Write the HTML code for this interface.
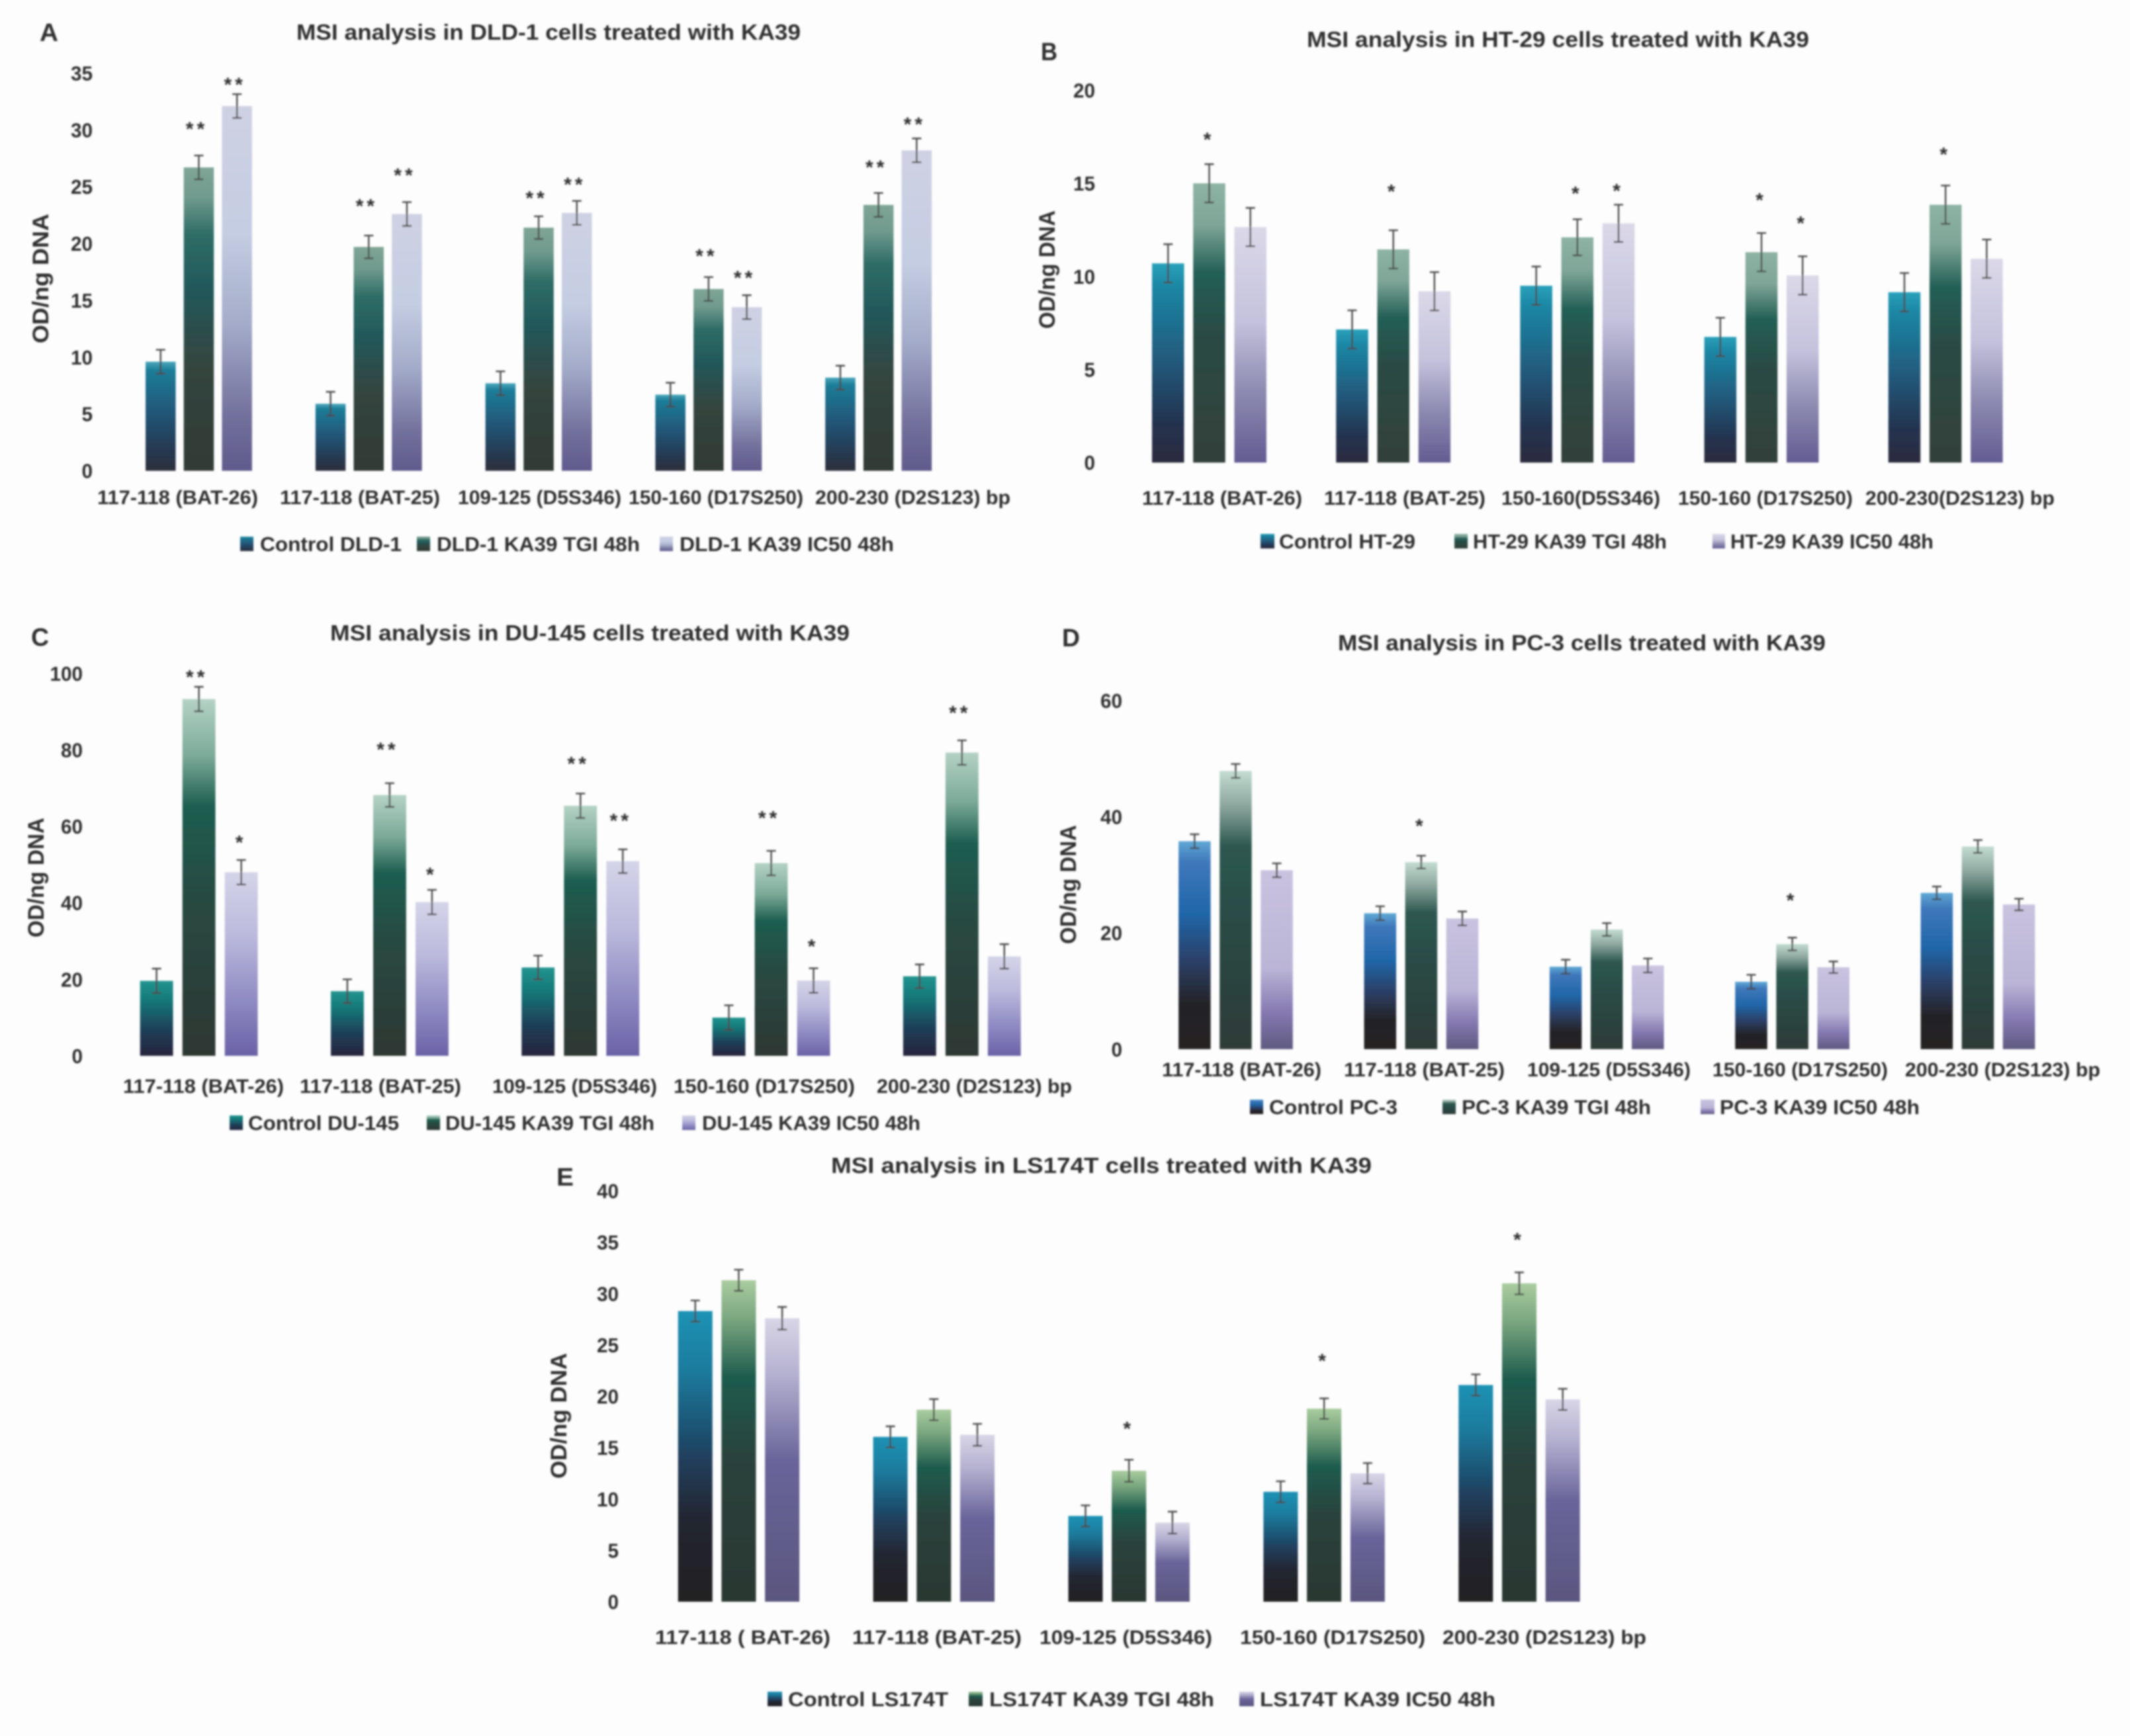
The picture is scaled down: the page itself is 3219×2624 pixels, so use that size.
<!DOCTYPE html>
<html lang="en">
<head>
<meta charset="utf-8">
<title>MSI analysis in cells treated with KA39</title>
<style>
html,body{margin:0;padding:0;background:#fdfdfd;}
svg{display:block;}
text{font-family:"Liberation Sans",sans-serif;fill:#2f2f2f;}
.t{font-size:33px;font-weight:bold;}
.l{font-size:31px;font-weight:bold;}
.p{font-size:38px;font-weight:bold;}
.a{font-size:34px;font-weight:bold;}
</style>
</head>
<body>
<svg id="figure" xmlns="http://www.w3.org/2000/svg" width="3219" height="2624" viewBox="0 0 3219 2624">
<defs>
<filter id="soft" filterUnits="userSpaceOnUse" x="0" y="0" width="3219" height="2624"><feGaussianBlur stdDeviation="1.4"/></filter>
<linearGradient id="g-a-0" x1="0" y1="0" x2="0" y2="1"><stop offset="0" stop-color="#4aa6bb"/><stop offset=".08" stop-color="#1b7d98"/><stop offset=".45" stop-color="#23587a"/><stop offset=".8" stop-color="#253a52"/><stop offset="1" stop-color="#2e2f3c"/></linearGradient>
<linearGradient id="g-a-1" x1="0" y1="0" x2="0" y2="1"><stop offset="0" stop-color="#7fa596"/><stop offset=".1" stop-color="#6f9a8d"/><stop offset=".22" stop-color="#2f6d66"/><stop offset=".4" stop-color="#22585a"/><stop offset=".65" stop-color="#34453f"/><stop offset="1" stop-color="#303a35"/></linearGradient>
<linearGradient id="g-a-2" x1="0" y1="0" x2="0" y2="1"><stop offset="0" stop-color="#cfd1e3"/><stop offset=".35" stop-color="#c4cde2"/><stop offset=".6" stop-color="#a3abc9"/><stop offset=".85" stop-color="#72709c"/><stop offset="1" stop-color="#5f5b8c"/></linearGradient>
<linearGradient id="g-b-0" x1="0" y1="0" x2="0" y2="1"><stop offset="0" stop-color="#2aa0ba"/><stop offset=".12" stop-color="#1a86a4"/><stop offset=".5" stop-color="#23587a"/><stop offset=".8" stop-color="#24334f"/><stop offset="1" stop-color="#2c2a3e"/></linearGradient>
<linearGradient id="g-b-1" x1="0" y1="0" x2="0" y2="1"><stop offset="0" stop-color="#8db3a4"/><stop offset=".15" stop-color="#7ea597"/><stop offset=".32" stop-color="#235f55"/><stop offset=".55" stop-color="#2a4a44"/><stop offset="1" stop-color="#33403a"/></linearGradient>
<linearGradient id="g-b-2" x1="0" y1="0" x2="0" y2="1"><stop offset="0" stop-color="#dbd8e8"/><stop offset=".4" stop-color="#c4c2dc"/><stop offset=".7" stop-color="#8c8ab0"/><stop offset="1" stop-color="#635c92"/></linearGradient>
<linearGradient id="g-c-0" x1="0" y1="0" x2="0" y2="1"><stop offset="0" stop-color="#22948f"/><stop offset=".25" stop-color="#157a7a"/><stop offset=".65" stop-color="#1e3f58"/><stop offset="1" stop-color="#27243c"/></linearGradient>
<linearGradient id="g-c-1" x1="0" y1="0" x2="0" y2="1"><stop offset="0" stop-color="#b4d2c4"/><stop offset=".16" stop-color="#7caa98"/><stop offset=".3" stop-color="#1d5e50"/><stop offset=".55" stop-color="#284a42"/><stop offset="1" stop-color="#2e3733"/></linearGradient>
<linearGradient id="g-c-2" x1="0" y1="0" x2="0" y2="1"><stop offset="0" stop-color="#d4d4e8"/><stop offset=".35" stop-color="#bab9dc"/><stop offset=".7" stop-color="#8e8ac2"/><stop offset="1" stop-color="#6a62a6"/></linearGradient>
<linearGradient id="g-d-0" x1="0" y1="0" x2="0" y2="1"><stop offset="0" stop-color="#5fa8d4"/><stop offset=".1" stop-color="#3f78bb"/><stop offset=".35" stop-color="#1f66a8"/><stop offset=".58" stop-color="#2c3f66"/><stop offset=".78" stop-color="#242428"/><stop offset="1" stop-color="#252323"/></linearGradient>
<linearGradient id="g-d-1" x1="0" y1="0" x2="0" y2="1"><stop offset="0" stop-color="#c3dcd2"/><stop offset=".12" stop-color="#8fa9a0"/><stop offset=".27" stop-color="#2d5850"/><stop offset=".55" stop-color="#2a4a45"/><stop offset="1" stop-color="#2e3b38"/></linearGradient>
<linearGradient id="g-d-2" x1="0" y1="0" x2="0" y2="1"><stop offset="0" stop-color="#c9c3e0"/><stop offset=".55" stop-color="#bab4d6"/><stop offset=".8" stop-color="#8478b0"/><stop offset="1" stop-color="#5f5a80"/></linearGradient>
<linearGradient id="g-e-0" x1="0" y1="0" x2="0" y2="1"><stop offset="0" stop-color="#1a92b4"/><stop offset=".2" stop-color="#1a7c9e"/><stop offset=".5" stop-color="#20405f"/><stop offset=".72" stop-color="#222530"/><stop offset="1" stop-color="#232323"/></linearGradient>
<linearGradient id="g-e-1" x1="0" y1="0" x2="0" y2="1"><stop offset="0" stop-color="#a9cc9f"/><stop offset=".12" stop-color="#7aa67f"/><stop offset=".3" stop-color="#1e5c4e"/><stop offset=".55" stop-color="#2a423c"/><stop offset="1" stop-color="#2c3732"/></linearGradient>
<linearGradient id="g-e-2" x1="0" y1="0" x2="0" y2="1"><stop offset="0" stop-color="#d8d5e6"/><stop offset=".2" stop-color="#b4b0d0"/><stop offset=".5" stop-color="#69659a"/><stop offset="1" stop-color="#5a567f"/></linearGradient>
</defs>
<rect x="0" y="0" width="3219" height="2624" fill="#fdfdfd"/>
<g id="root" filter="url(#soft)">

<g id="panel-a">
<text class="p" x="60" y="62" textLength="28" lengthAdjust="spacingAndGlyphs">A</text>
<text class="t" x="448" y="60" textLength="762" lengthAdjust="spacingAndGlyphs">MSI analysis in DLD-1 cells treated with KA39</text>
<text class="a" transform="translate(73,519) rotate(-90)" textLength="196" lengthAdjust="spacingAndGlyphs">OD/ng DNA</text>
<g>
<rect x="363" y="811" width="20" height="22" fill="url(#g-a-0)"/>
<text class="l" x="393" y="833" textLength="214" lengthAdjust="spacingAndGlyphs">Control DLD-1</text>
<rect x="630" y="811" width="20" height="22" fill="url(#g-a-1)"/>
<text class="l" x="660" y="833" textLength="307" lengthAdjust="spacingAndGlyphs">DLD-1 KA39 TGI 48h</text>
<rect x="997" y="811" width="20" height="22" fill="url(#g-a-2)"/>
<text class="l" x="1027" y="833" textLength="324" lengthAdjust="spacingAndGlyphs">DLD-1 KA39 IC50 48h</text>
</g>
</g>

<g id="panel-b">
<text class="p" x="1573" y="91" textLength="25" lengthAdjust="spacingAndGlyphs">B</text>
<text class="t" x="1975" y="71" textLength="759" lengthAdjust="spacingAndGlyphs">MSI analysis in HT-29 cells treated with KA39</text>
<text class="a" transform="translate(1594,497) rotate(-90)" textLength="179" lengthAdjust="spacingAndGlyphs">OD/ng DNA</text>
<g>
<rect x="1905" y="807" width="21" height="22" fill="url(#g-b-0)"/>
<text class="l" x="1933" y="829" textLength="206" lengthAdjust="spacingAndGlyphs">Control HT-29</text>
<rect x="2198" y="807" width="20" height="22" fill="url(#g-b-1)"/>
<text class="l" x="2226" y="829" textLength="293" lengthAdjust="spacingAndGlyphs">HT-29 KA39 TGI 48h</text>
<rect x="2588" y="807" width="19" height="22" fill="url(#g-b-2)"/>
<text class="l" x="2615" y="829" textLength="307" lengthAdjust="spacingAndGlyphs">HT-29 KA39 IC50 48h</text>
</g>
</g>

<g id="panel-c">
<text class="p" x="47" y="976" textLength="27" lengthAdjust="spacingAndGlyphs">C</text>
<text class="t" x="499" y="968" textLength="785" lengthAdjust="spacingAndGlyphs">MSI analysis in DU-145 cells treated with KA39</text>
<text class="a" transform="translate(66,1417) rotate(-90)" textLength="181" lengthAdjust="spacingAndGlyphs">OD/ng DNA</text>
<g>
<rect x="347" y="1686" width="20" height="22" fill="url(#g-c-0)"/>
<text class="l" x="375" y="1708" textLength="228" lengthAdjust="spacingAndGlyphs">Control DU-145</text>
<rect x="645" y="1686" width="20" height="22" fill="url(#g-c-1)"/>
<text class="l" x="673" y="1708" textLength="316" lengthAdjust="spacingAndGlyphs">DU-145 KA39 TGI 48h</text>
<rect x="1031" y="1686" width="20" height="22" fill="url(#g-c-2)"/>
<text class="l" x="1061" y="1708" textLength="330" lengthAdjust="spacingAndGlyphs">DU-145 KA39 IC50 48h</text>
</g>
</g>

<g id="panel-d">
<text class="p" x="1605" y="977" textLength="27" lengthAdjust="spacingAndGlyphs">D</text>
<text class="t" x="2022" y="983" textLength="737" lengthAdjust="spacingAndGlyphs">MSI analysis in PC-3 cells treated with KA39</text>
<text class="a" transform="translate(1626,1427) rotate(-90)" textLength="180" lengthAdjust="spacingAndGlyphs">OD/ng DNA</text>
<g>
<rect x="1889" y="1662" width="20" height="22" fill="url(#g-d-0)"/>
<text class="l" x="1918" y="1684" textLength="194" lengthAdjust="spacingAndGlyphs">Control PC-3</text>
<rect x="2180" y="1662" width="20" height="22" fill="url(#g-d-1)"/>
<text class="l" x="2209" y="1684" textLength="286" lengthAdjust="spacingAndGlyphs">PC-3 KA39 TGI 48h</text>
<rect x="2570" y="1662" width="21" height="22" fill="url(#g-d-2)"/>
<text class="l" x="2599" y="1684" textLength="302" lengthAdjust="spacingAndGlyphs">PC-3 KA39 IC50 48h</text>
</g>
</g>

<g id="panel-e">
<text class="p" x="841" y="1792" textLength="26" lengthAdjust="spacingAndGlyphs">E</text>
<text class="t" x="1256" y="1773" textLength="817" lengthAdjust="spacingAndGlyphs">MSI analysis in LS174T cells treated with KA39</text>
<text class="a" transform="translate(856,2235) rotate(-90)" textLength="190" lengthAdjust="spacingAndGlyphs">OD/ng DNA</text>
<g>
<rect x="1160" y="2557" width="22" height="22" fill="url(#g-e-0)"/>
<text class="l" x="1191" y="2579" textLength="242" lengthAdjust="spacingAndGlyphs">Control LS174T</text>
<rect x="1464" y="2557" width="21" height="22" fill="url(#g-e-1)"/>
<text class="l" x="1495" y="2579" textLength="340" lengthAdjust="spacingAndGlyphs">LS174T KA39 TGI 48h</text>
<rect x="1873" y="2557" width="22" height="22" fill="url(#g-e-2)"/>
<text class="l" x="1904" y="2579" textLength="356" lengthAdjust="spacingAndGlyphs">LS174T KA39 IC50 48h</text>
</g>
</g>
</g>
</svg>
<script>
// ---------- Panel A data ----------
var aCategories = ['117-118 (BAT-26)', '117-118 (BAT-25)', '109-125 (D5S346)', '150-160 (D17S250)', '200-230 (D2S123) bp'];
var aTicks = [0, 5, 10, 15, 20, 25, 30, 35];
var aControl = [9.6, 5.9, 7.7, 6.7, 8.2];
var aTgi = [26.7, 19.7, 21.4, 16.0, 23.4];
var aIc50 = [32.1, 22.6, 22.7, 14.4, 28.2];
var aControlErr = [1.05, 1.05, 1.05, 1.05, 1.05];
var aTgiErr = [1.05, 1.0, 1.0, 1.05, 1.05];
var aIc50Err = [1.05, 1.05, 1.05, 1.05, 1.05];
var aTgiSig = ['**', '**', '**', '**', '**'];
var aTgiSigLevel = [30.5, 23.7, 24.4, 19.3, 27.1];
var aIc50Sig = ['**', '**', '**', '**', '**'];
var aIc50SigLevel = [34.4, 26.4, 25.6, 17.4, 30.9];

// ---------- Panel B data ----------
var bCategories = ['117-118 (BAT-26)', '117-118 (BAT-25)', '150-160(D5S346)', '150-160 (D17S250)', '200-230(D2S123) bp'];
var bTicks = [0, 5, 10, 15, 20];
var bControl = [10.7, 7.15, 9.5, 6.75, 9.15];
var bTgi = [15.0, 11.45, 12.1, 11.3, 13.85];
var bIc50 = [12.65, 9.2, 12.85, 10.05, 10.95];
var bControlErr = [1.03, 1.03, 1.03, 1.03, 1.03];
var bTgiErr = [1.03, 1.03, 0.97, 1.03, 1.03];
var bIc50Err = [1.03, 1.03, 1.0, 1.03, 1.03];
var bTgiSig = ['*', '*', '*', '*', '*'];
var bTgiSigLevel = [17.6, 14.8, 14.7, 14.35, 16.8];
var bIc50Sig = ['', '', '*', '*', ''];
var bIc50SigLevel = [0, 0, 14.85, 13.1, 0];

// ---------- Panel C data ----------
var cCategories = ['117-118 (BAT-26)', '117-118 (BAT-25)', '109-125 (D5S346)', '150-160  (D17S250)', '200-230 (D2S123) bp'];
var cTicks = [0, 20, 40, 60, 80, 100];
var cControl = [19.6, 16.9, 23.1, 10.0, 20.8];
var cTgi = [93.3, 68.2, 65.4, 50.4, 79.3];
var cIc50 = [48.0, 40.2, 50.9, 19.7, 26.0];
var cControlErr = [3.2, 3.1, 3.1, 3.2, 3.1];
var cTgiErr = [3.2, 3.1, 3.2, 3.2, 3.2];
var cIc50Err = [3.2, 3.2, 3.1, 3.2, 3.2];
var cTgiSig = ['**', '**', '**', '**', '**'];
var cTgiSigLevel = [100.2, 81.3, 77.6, 63.4, 90.9];
var cIc50Sig = ['*', '*', '**', '*', ''];
var cIc50SigLevel = [57.0, 48.6, 62.7, 29.8, 0];

// ---------- Panel D data ----------
var dCategories = ['117-118 (BAT-26)', '117-118 (BAT-25)', '109-125 (D5S346)', '150-160 (D17S250)', '200-230 (D2S123) bp'];
var dTicks = [0, 20, 40, 60];
var dControl = [35.8, 23.4, 14.2, 11.6, 26.9];
var dTgi = [47.9, 32.2, 20.6, 18.1, 34.9];
var dIc50 = [30.8, 22.5, 14.4, 14.1, 24.9];
var dControlErr = [1.2, 1.2, 1.2, 1.2, 1.1];
var dTgiErr = [1.2, 1.1, 1.1, 1.1, 1.1];
var dIc50Err = [1.2, 1.2, 1.2, 1.0, 1.0];
var dTgiSig = ['', '*', '', '*', ''];
var dTgiSigLevel = [0, 39.2, 0, 26.4, 0];
var dIc50Sig = ['', '', '', '', ''];
var dIc50SigLevel = [0, 0, 0, 0, 0];

// ---------- Panel E data ----------
var eCategories = ['117-118 ( BAT-26)', '117-118 (BAT-25)', '109-125 (D5S346)', '150-160 (D17S250)', '200-230 (D2S123) bp'];
var eTicks = [0, 5, 10, 15, 20, 25, 30, 35, 40];
var eControl = [28.3, 16.05, 8.35, 10.7, 21.1];
var eTgi = [31.3, 18.7, 12.75, 18.8, 31.0];
var eIc50 = [27.6, 16.25, 7.7, 12.5, 19.7];
var eControlErr = [1.03, 1.03, 1.03, 1.03, 1.03];
var eTgiErr = [1.03, 1.03, 1.07, 1.0, 1.07];
var eIc50Err = [1.1, 1.07, 1.07, 1.0, 1.03];
var eTgiSig = ['', '', '*', '*', '*'];
var eTgiSigLevel = [0, 0, 17.3, 23.9, 35.7];
var eIc50Sig = ['', '', '', '', ''];
var eIc50SigLevel = [0, 0, 0, 0, 0];

var SVG_NS = 'http://www.w3.org/2000/svg';
var seriesNames = ['control', 'tgi', 'ic50'];

function make(parent, tag, attrs, name, text) {
  var el = document.createElementNS(SVG_NS, tag);
  for (var k in attrs) { el.setAttribute(k, attrs[k]); }
  
  
  if (text !== undefined) { el.textContent = text; }
  parent.appendChild(el);
  return el;
}

function drawPanel(id, frame, categories, ticks, series, errors, sigs, sigLevels) {
  var parent = document.getElementById('panel-' + id);
  var scaleY = function (v) { return frame.y0 - v / frame.max * (frame.y0 - frame.yTop); };
  var scaleX = function (g, s) { return frame.x0 + g * frame.groupPitch + s * frame.barPitch; };

  // y-axis tick labels
  ticks.forEach(function (t) {
    var label = String(t);
    make(parent, 'text', {
      x: frame.tickRight - label.length * 16.5, y: scaleY(t) + 11,
      textLength: label.length * 16.5, lengthAdjust: 'spacingAndGlyphs',
      'font-size': 31, 'font-weight': 'bold'
    }, 'y-tick-' + id + '-' + t, label);
  });

  // x-axis category labels
  categories.forEach(function (c, g) {
    var span = frame.labelSpans[g];
    make(parent, 'text', {
      x: span[0], y: frame.labelY + 11, textLength: span[1] - span[0],
      lengthAdjust: 'spacingAndGlyphs', 'font-size': 30, 'font-weight': 'bold'
    }, 'x-label-' + id + '-' + (g + 1), c);
  });

  // bars, error bars, significance marks
  series.forEach(function (vals, s) {
    vals.forEach(function (v, g) {
      var bx = scaleX(g, s);
      var cx = bx + frame.barW / 2;
      var top = scaleY(v);
      make(parent, 'rect', {
        x: bx, y: top, width: frame.barW, height: frame.y0 - top,
        fill: 'url(#g-' + id + '-' + s + ')'
      }, 'bar-' + id + '-' + seriesNames[s] + '-' + (g + 1));
      var e = errors[s][g];
      var hi = scaleY(v + e), lo = scaleY(v - e);
      make(parent, 'path', {
        d: 'M' + cx + ' ' + lo + 'V' + hi + 'M' + (cx - 7) + ' ' + hi + 'H' + (cx + 7) + 'M' + (cx - 7) + ' ' + lo + 'H' + (cx + 7),
        stroke: '#4a4a48', 'stroke-width': 2.4, fill: 'none'
      }, 'error-bar-' + id + '-' + seriesNames[s] + '-' + (g + 1));
    });
  });
  sigs.forEach(function (marks, i) {
    marks.forEach(function (mark, g) {
      if (!mark) { return; }
      var s = i + 1;
      make(parent, 'text', {
        x: scaleX(g, s) + frame.barW / 2 - 3, y: scaleY(sigLevels[i][g]) + 17,
        'text-anchor': 'middle', 'font-size': 30, 'font-weight': 'bold',
        'letter-spacing': mark.length > 1 ? 5 : 0
      }, 'significance-' + id + '-' + seriesNames[s] + '-' + (g + 1), mark);
    });
  });
}

drawPanel('a',
  { x0: 220, barW: 45.5, barPitch: 57.7, groupPitch: 256.8, y0: 711.6, yTop: 110.5, max: 35, tickRight: 140, labelY: 751,
    labelSpans: [[147, 390], [423, 665], [692, 939], [950, 1214], [1232, 1527]] },
  aCategories, aTicks, [aControl, aTgi, aIc50], [aControlErr, aTgiErr, aIc50Err],
  [aTgiSig, aIc50Sig], [aTgiSigLevel, aIc50SigLevel]);

drawPanel('b',
  { x0: 1741, barW: 48.5, barPitch: 62.2, groupPitch: 278.2, y0: 699.2, yTop: 136.4, max: 20, tickRight: 1655, labelY: 752,
    labelSpans: [[1726, 1968], [2001, 2245], [2269, 2509], [2536, 2800], [2819, 3105]] },
  bCategories, bTicks, [bControl, bTgi, bIc50], [bControlErr, bTgiErr, bIc50Err],
  [bTgiSig, bIc50Sig], [bTgiSigLevel, bIc50SigLevel]);

drawPanel('c',
  { x0: 211.7, barW: 49.8, barPitch: 64, groupPitch: 288.3, y0: 1595.9, yTop: 1017.9, max: 100, tickRight: 125, labelY: 1641,
    labelSpans: [[186, 429], [453, 697], [744, 993], [1018, 1292], [1325, 1620]] },
  cCategories, cTicks, [cControl, cTgi, cIc50], [cControlErr, cTgiErr, cIc50Err],
  [cTgiSig, cIc50Sig], [cTgiSigLevel, cIc50SigLevel]);

drawPanel('d',
  { x0: 1781.1, barW: 48.5, barPitch: 62.1, groupPitch: 280.4, y0: 1585.8, yTop: 1059.1, max: 60, tickRight: 1696, labelY: 1616,
    labelSpans: [[1756, 1997], [2031, 2274], [2308, 2555], [2588, 2853], [2879, 3174]] },
  dCategories, dTicks, [dControl, dTgi, dIc50], [dControlErr, dTgiErr, dIc50Err],
  [dTgiSig, dIc50Sig], [dTgiSigLevel, dIc50SigLevel]);

drawPanel('e',
  { x0: 1024.7, barW: 52, barPitch: 65.7, groupPitch: 294.9, y0: 2421, yTop: 1800.1, max: 40, tickRight: 935, labelY: 2474,
    labelSpans: [[990, 1255], [1288, 1544], [1571, 1832], [1874, 2154], [2180, 2488]] },
  eCategories, eTicks, [eControl, eTgi, eIc50], [eControlErr, eTgiErr, eIc50Err],
  [eTgiSig, eIc50Sig], [eTgiSigLevel, eIc50SigLevel]);
</script>
</body>
</html>
